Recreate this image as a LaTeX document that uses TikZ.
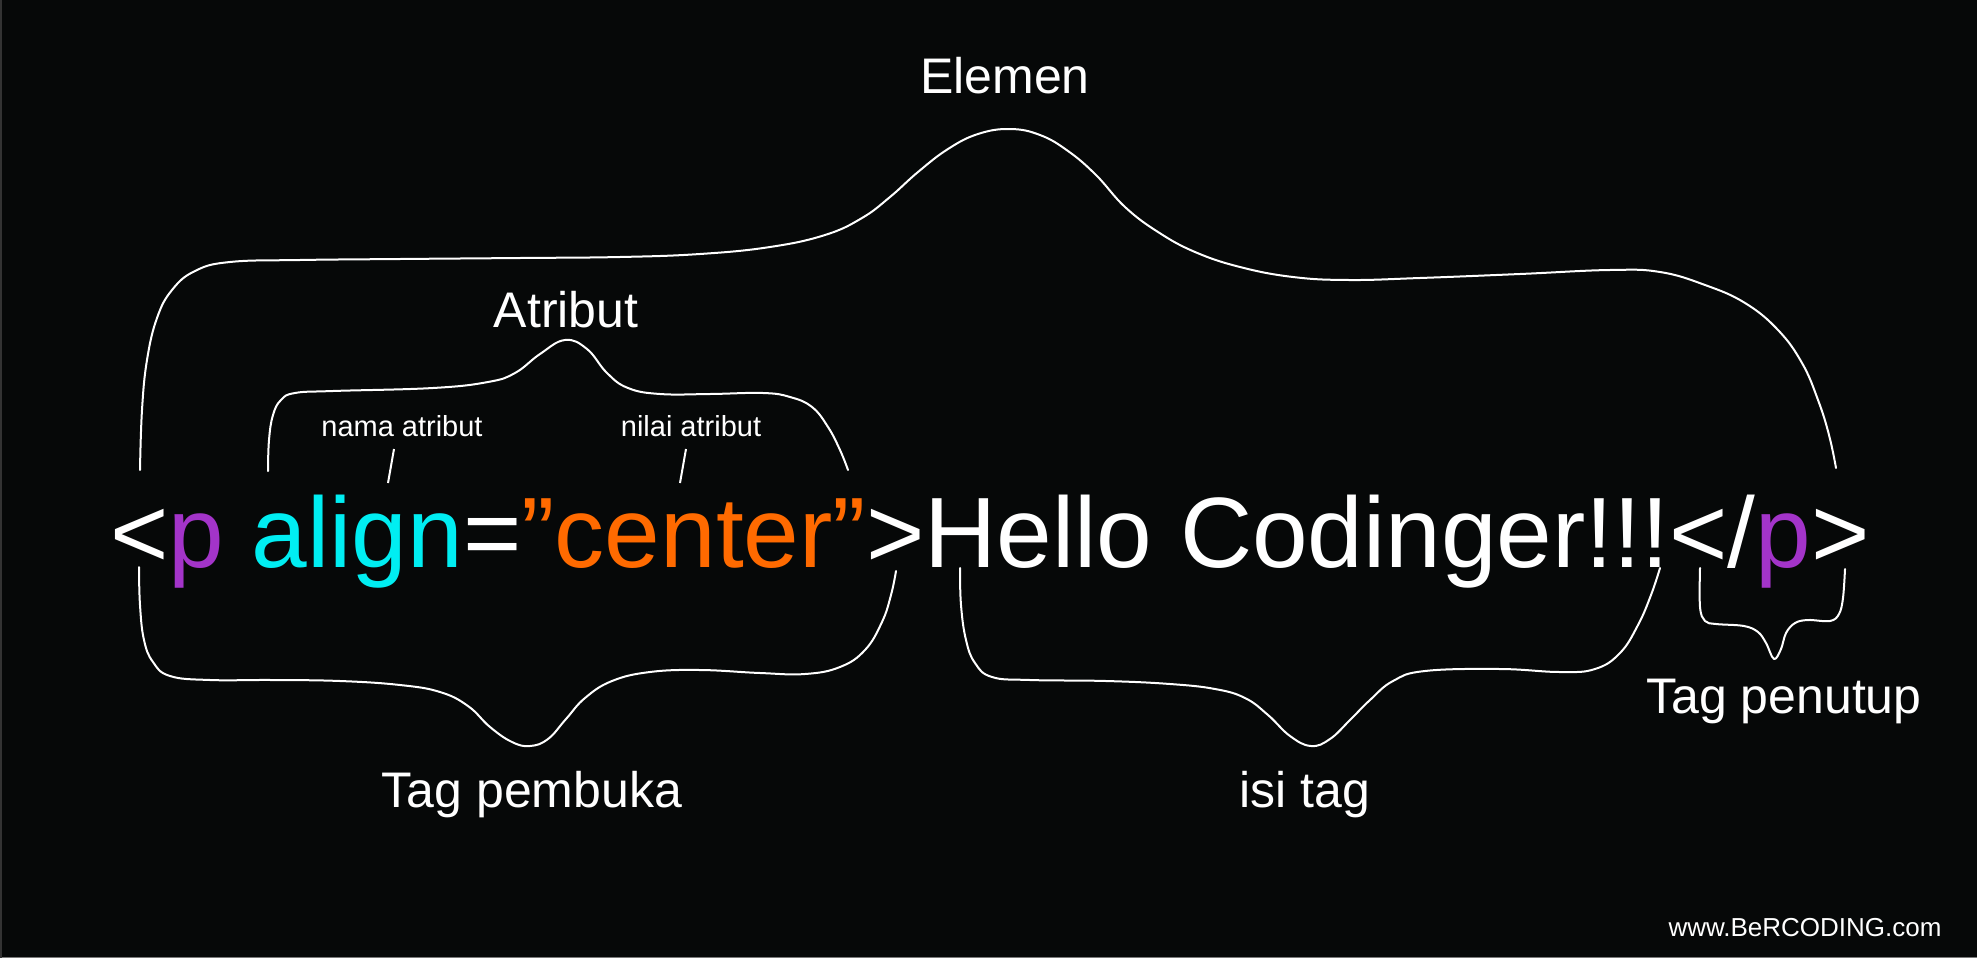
\documentclass[tikz,border=0pt]{standalone}
\usepackage{fontspec}
\setmainfont{Liberation Sans}
\definecolor{bg}{HTML}{060808}
\definecolor{tagpurple}{HTML}{A334C9}
\definecolor{attrcyan}{HTML}{00EEF2}
\definecolor{valorange}{HTML}{FF6A00}
\definecolor{edgegray}{HTML}{7A7A7A}
\tikzset{
  brace/.style={draw=white, line width=2pt, line cap=round, line join=round},
  pointer/.style={draw=white, line width=2pt},
  lbl/.style={text=white, inner sep=0pt, anchor=base},
  biglbl/.style={lbl, font=\fontsize{50}{50}\selectfont},
  smalllbl/.style={lbl, font=\fontsize{29}{29}\selectfont},
}
\begin{document}
\begin{tikzpicture}[x=1pt, y=-1pt]
\useasboundingbox (0,0) rectangle (1977,958);
\fill[bg] (0,0) rectangle (1977,958);
\fill[edgegray] (0,956.5) rectangle (1977,958);
\fill[black!80!white] (0,0) rectangle (1.5,958);

% main code line
\node[anchor=base west, inner sep=0pt, text=white, font=\fontsize{100}{100}\selectfont] (code) at (110,567)
  {<\textcolor{tagpurple}{p} \textcolor{attrcyan}{align}=\textcolor{valorange}{”center”}>Hello Codinger!!!</\textcolor{tagpurple}{p}>};

% labels
\node[biglbl] (elemen) at (1005,93) {Elemen};
\node[biglbl] (atribut) at (566,327) {Atribut};
\node[smalllbl] (nama) at (402,436) {nama atribut};
\node[smalllbl] (nilai) at (691,436) {nilai atribut};
\node[biglbl] (pembuka) at (532,807) {Tag pembuka};
\node[biglbl] (isi) at (1305,807) {isi tag};
\node[biglbl] (penutup) at (1784,713) {Tag penutup};
\node[lbl, font=\fontsize{26}{26}\selectfont] (web) at (1805,936) {www.BeRCODING.com};

% pointer lines
\coordinate (na1) at (394,449);
\coordinate (na2) at (388,483);
\coordinate (ni1) at (686,449);
\coordinate (ni2) at (680,483);
\draw[pointer] (na1) -- (na2);
\draw[pointer] (ni1) -- (ni2);

% Elemen brace
\draw[brace] plot[smooth, tension=0.7] coordinates {
 (140,470) (142,410) (147,360) (157,318) (172,290) (195,271) (230,262) (300,260)
 (400,259) (520,258) (620,257) (700,254) (770,247) (825,235) (862,218) (890,197)
 (918,172) (948,149) (978,134) (1010,129) (1040,135) (1068,151) (1096,175)
 (1125,207) (1158,232) (1195,252) (1240,267) (1293,277) (1349,280) (1420,278)
 (1520,274) (1610,270) (1660,272) (1705,285) (1745,303) (1778,330) (1802,363)
 (1818,400) (1829,435) (1836,468)};

% Atribut brace
\draw[brace] plot[smooth, tension=0.7] coordinates {
 (268,471) (269,440) (273,415) (281,400) (295,393) (333,391) (433,388) (488,382)
 (515,373) (540,354) (565,340) (587,349) (607,373) (628,388) (660,394) (710,394)
 (763,393) (790,397) (812,407) (828,427) (840,450) (848,470)};

% Tag pembuka brace
\draw[brace] plot[smooth, tension=0.7] coordinates {
 (139,567) (140,605) (144,640) (153,662) (170,676) (210,680) (272,680) (340,681)
 (400,685) (440,692) (468,706) (490,727) (512,742) (530,746) (548,739) (566,719)
 (585,698) (612,681) (650,672) (700,670) (760,673) (805,674) (840,667) (865,650)
 (882,622) (891,595) (896,571)};

% isi tag brace
\draw[brace] plot[smooth, tension=0.7] coordinates {
 (960,568) (961,605) (966,640) (975,663) (992,677) (1030,680) (1106,681) (1170,684)
 (1215,689) (1245,698) (1268,715) (1290,736) (1311,746) (1330,739) (1350,720)
 (1370,700) (1393,681) (1425,671) (1500,669) (1560,672) (1595,669) (1620,653)
 (1638,625) (1651,595) (1660,568)};

% Tag penutup brace
\draw[brace] plot[smooth, tension=0.6] coordinates {
 (1700,568) (1700,607) (1705,621) (1716,624) (1744,626) (1758,632) (1766,643)
 (1774,659) (1781,649) (1786,633) (1795,623) (1808,620) (1830,621) (1839,614)
 (1843,598) (1845,569)};
\end{tikzpicture}
\end{document}
